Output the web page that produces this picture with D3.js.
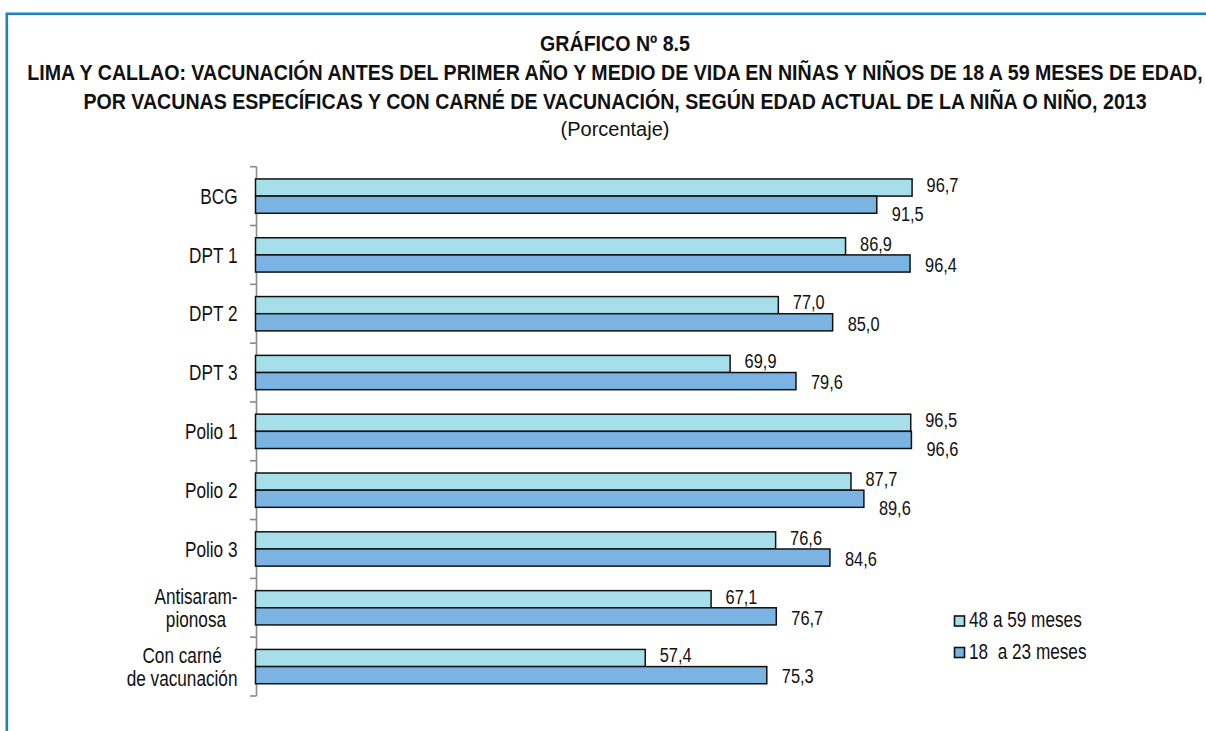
<!DOCTYPE html>
<html><head><meta charset="utf-8">
<script src="https://cdn.jsdelivr.net/npm/d3@7"></script>
<style>
html,body{margin:0;padding:0;background:#fff;}
svg{display:block;}
text{font-family:"Liberation Sans",Arial,sans-serif;fill:#111;}
</style></head>
<body>
<svg id="chart" width="1206" height="731"></svg>
<script>
const titleLines = [
  "GRÁFICO Nº 8.5",
  "LIMA Y CALLAO: VACUNACIÓN ANTES DEL PRIMER AÑO Y MEDIO DE VIDA EN NIÑAS Y NIÑOS DE 18 A 59 MESES DE EDAD,",
  "POR VACUNAS ESPECÍFICAS Y CON CARNÉ DE VACUNACIÓN, SEGÚN EDAD ACTUAL DE LA NIÑA O NIÑO, 2013"
];
const subtitle = "(Porcentaje)";
const categories = ["BCG","DPT 1","DPT 2","DPT 3","Polio 1","Polio 2","Polio 3","Antisaram-\npionosa","Con carné\nde vacunación"];
const seriesNames = ["48 a 59 meses","18  a 23 meses"];
const values48a59 = [96.7, 86.9, 77.0, 69.9, 96.5, 87.7, 76.6, 67.1, 57.4];
const values18a23 = [91.5, 96.4, 85.0, 79.6, 96.6, 89.6, 84.6, 76.7, 75.3];
const colors = ["#A6DFEA","#7BB4E3"];

const svg = d3.select("#chart");
const W = 1206, H = 731;

function narrow(sel, x, y, sx){
  return sel.attr("x",0).attr("y",0).attr("transform",`translate(${x},${y}) scale(${sx},1)`);
}

// frame
svg.append("rect").attr("x",6.8).attr("y",13.8).attr("width",W+20).attr("height",H+20)
  .attr("fill","none").attr("stroke","#1B84C0").attr("stroke-width",2.6);

// titles
const cx = 615;
const tl = svg.append("g").selectAll("text").data(titleLines).join("text")
  .attr("text-anchor","middle").attr("font-weight","bold").attr("font-size",22)
  .text(d=>d);
const w2 = tl.nodes()[1].getComputedTextLength();
const tsx = 1176/w2;
tl.each(function(d,i){ narrow(d3.select(this), cx, 50.5+i*29, tsx); });

svg.append("text").attr("x",cx).attr("y",136).attr("text-anchor","middle")
  .attr("font-size",20).text(subtitle);

// scales
const y = d3.scaleBand().domain(categories).range([166.7,696]).padding(0);
const ys = d3.scaleBand().domain([0,1]).range([0,y.bandwidth()]).paddingInner(0).paddingOuter(0.714);
const x = d3.scaleLinear().domain([0,100]).range([255.5,934.5]);

const series = [values48a59, values18a23];

// axis
const axisG = svg.append("g");
axisG.append("line").attr("x1",256.5).attr("x2",256.5).attr("y1",y.range()[0]).attr("y2",y.range()[1])
  .attr("stroke","#8a8a8a").attr("stroke-width",1.6);
const tickYs = categories.map(c=>y(c)).concat([y.range()[1]]);
axisG.selectAll("line.tick").data(tickYs).join("line").attr("class","tick")
  .attr("x1",250).attr("x2",256.5).attr("y1",d=>d).attr("y2",d=>d)
  .attr("stroke","#8a8a8a").attr("stroke-width",1.6);

// category labels
const catG = svg.append("g");
categories.forEach(c=>{
  const lines = c.split("\n");
  const c0 = y(c)+y.bandwidth()/2;
  const t = narrow(catG.append("text").attr("font-size",21.5).attr("text-anchor","middle"), 237.5, c0, 0.8);
  const lh = 22.5;
  lines.forEach((ln,i)=>{
    t.append("tspan").attr("y", 7.7 - (lines.length-1)*lh/2 + i*lh).text(ln);
  });
  const maxW = d3.max(t.selectAll("tspan").nodes(), n=>n.getComputedTextLength());
  t.selectAll("tspan").attr("x", -maxW/2);
});

// bars
const fmt = d3.formatLocale({decimal:",",thousands:".",grouping:[3],currency:["",""]}).format(".1f");
series.forEach((vals,si)=>{
  svg.append("g").selectAll("rect").data(vals).join("rect")
    .attr("x",x(0)).attr("y",(d,i)=>y(categories[i])+ys(si))
    .attr("width",d=>x(d)-x(0)).attr("height",ys.bandwidth())
    .attr("fill",colors[si]).attr("stroke","#111").attr("stroke-width",1.5);
});

// labels
const labG = svg.append("g");
categories.forEach((c,i)=>{
  const v0 = values48a59[i], v1 = values18a23[i];
  const c0 = y(c)+ys(0)+ys.bandwidth()/2;
  const c1 = y(c)+ys(1)+ys.bandwidth()/2;
  narrow(labG.append("text").attr("font-size",21).text(fmt(v0)), x(v0)+14.5, c0+4.3, 0.78);
  const crowd = (x(v1)-x(v0)) < 30;
  narrow(labG.append("text").attr("font-size",21).text(fmt(v1)), x(v1)+15, c1+(crowd?16.5:8.3), 0.78);
});

// legend
const leg = svg.append("g");
seriesNames.forEach((n,i)=>{
  const ly = 616 + i*31.5;
  leg.append("rect").attr("x",954.5).attr("y",ly).attr("width",10).attr("height",10)
    .attr("fill",colors[i]).attr("stroke","#111").attr("stroke-width",1.6);
  narrow(leg.append("text").attr("font-size",21.5)
    .attr("xml:space","preserve").style("white-space","pre").text(n), 969, ly+11, 0.8);
});
</script>
</body></html>
